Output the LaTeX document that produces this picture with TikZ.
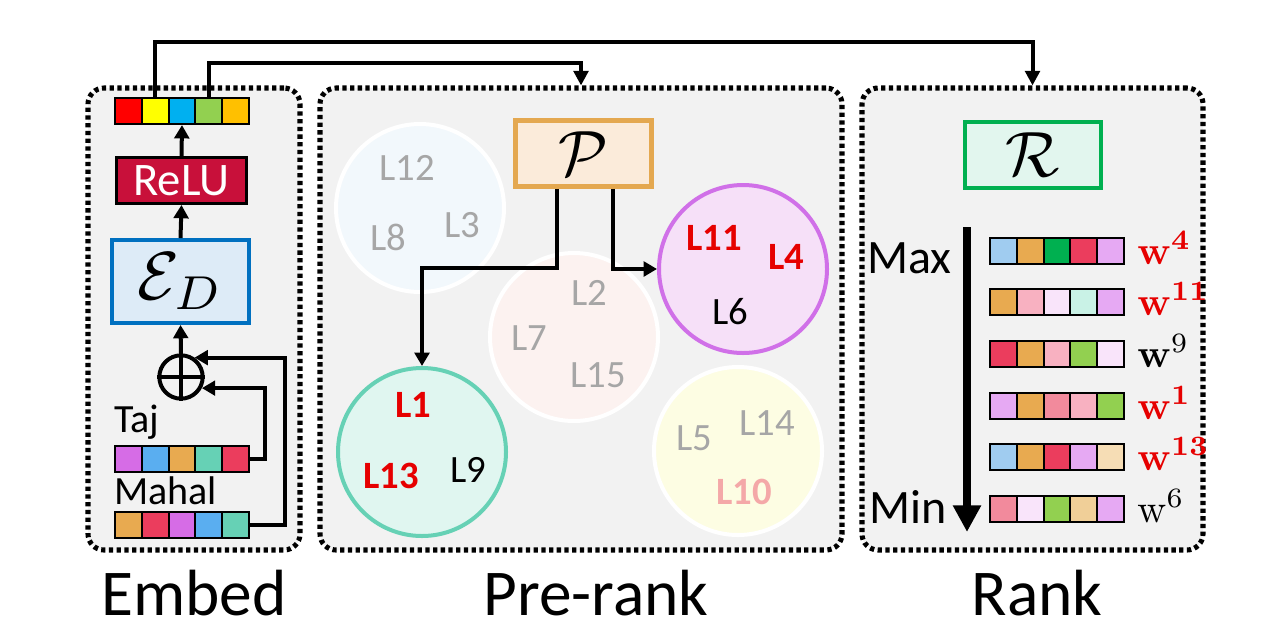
\documentclass[tikz,border=0pt]{standalone}
\usepackage{graphicx}
\usepackage[no-math]{fontspec}
\setmainfont{Carlito}
\usetikzlibrary{arrows.meta,calc}
\definecolor{panelgray}{HTML}{F2F2F2}
\definecolor{cred}{HTML}{FF0000}
\definecolor{cyellow}{HTML}{FFFF00}
\definecolor{ccyan}{HTML}{00B0F0}
\definecolor{cgreen}{HTML}{92D050}
\definecolor{cgold}{HTML}{FFC000}
\definecolor{relu}{HTML}{C8103A}
\definecolor{edfill}{HTML}{DDEBF7}
\definecolor{edborder}{HTML}{0070C0}
\definecolor{cviolet}{HTML}{D66CE6}
\definecolor{cblue}{HTML}{5AAEF0}
\definecolor{corange}{HTML}{E8AA50}
\definecolor{cteal}{HTML}{66D1B5}
\definecolor{cred2}{HTML}{EB3D5D}
\definecolor{clblue}{HTML}{A0CCF0}
\definecolor{cdgreen}{HTML}{00B050}
\definecolor{clviolet}{HTML}{E6A9F3}
\definecolor{cpink}{HTML}{F8B1C1}
\definecolor{cvlpink}{HTML}{F9E4FA}
\definecolor{clteal}{HTML}{C9F2E6}
\definecolor{climegreen}{HTML}{92D050}
\definecolor{cpinkred}{HTML}{F28A9C}
\definecolor{cbeige}{HTML}{F6DDB5}
\definecolor{cbeige2}{HTML}{F0CF98}
\definecolor{pfill}{HTML}{FBEBDA}
\definecolor{pborder}{HTML}{E4A850}
\definecolor{rfill}{HTML}{E2F6EE}
\definecolor{rborder}{HTML}{00B050}
\definecolor{circblue}{HTML}{F2F8FC}
\definecolor{circpink}{HTML}{FCF2F0}
\definecolor{circviolet}{HTML}{F6E0F8}
\definecolor{circvioletb}{HTML}{D070E8}
\definecolor{circteal}{HTML}{E0F6F0}
\definecolor{circtealb}{HTML}{66D1B5}
\definecolor{circyellow}{HTML}{FDFDE3}
\definecolor{lgray}{HTML}{A6A6A6}
\definecolor{lred}{HTML}{E60000}
\definecolor{lpink}{HTML}{F4A8A8}
\newcommand\cellrow[4]{%
  \foreach \c [count=\i] in {#4} {%
    \node[cell,fill=\c] (#1-\i) at ({#2+13.4+26.8*(\i-1)},#3) {};}}
\begin{document}
\begin{tikzpicture}[x=0.75pt,y=-0.75pt,
  panel/.style={draw,line width=3.8pt,dash pattern=on 3.2pt off 2.6pt,rounded corners=12pt,fill=panelgray,inner sep=0},
  cell/.style={draw,line width=1.6pt,minimum width=20.1pt,minimum height=19.5pt,inner sep=0},
  earrow/.style={line width=3pt,-{Triangle[width=11pt,length=10pt]}},
  barrow/.style={line width=3pt,-{Triangle[width=11pt,length=11pt]}},
  bigarrow/.style={line width=6pt,-{Triangle[width=20pt,length=20pt]}},
  circ/.style={circle,draw,line width=3pt,minimum size=126pt,inner sep=0},
  lab/.style={font=\fontsize{29}{30}\selectfont},
  blab/.style={font=\fontsize{29}{30}\selectfont\bfseries},
  wlab/.style={anchor=west,inner sep=0}
]
\useasboundingbox (0,0) rectangle (1280,640);
\fill[white] (0,0) rectangle (1280,640);

% panels
\node[panel,minimum width=159pt,minimum height=346.5pt] (embed) at (194,319) {};
\node[panel,minimum width=391.5pt,minimum height=346.5pt] (pre) at (581,319) {};
\node[panel,minimum width=255.75pt,minimum height=346.5pt] (rank) at (1032.5,319) {};

% panel titles
\node[anchor=base,inner sep=0,font=\fontsize{49}{50}\selectfont] (tembed) at (194,615) {Embed};
\node[anchor=base,inner sep=0,font=\fontsize{49}{50}\selectfont] (tpre) at (596,615) {Pre-rank};
\node[anchor=base,inner sep=0,font=\fontsize{49}{50}\selectfont] (trank) at (1037,615) {Rank};

% Embed column
\cellrow{top}{115}{111}{cred,cyellow,ccyan,cgreen,cgold}
\node[draw,line width=2.2pt,fill=relu,text=white,minimum width=97.5pt,minimum height=34.5pt,inner sep=0,font=\fontsize{35}{36}\selectfont] (relu) at (181.5,180.5) {ReLU};
\node[draw=edborder,line width=3.2pt,fill=edfill,minimum width=103pt,minimum height=62pt,inner sep=0] (ed) at (180.5,281.5) {\scalebox{5.1}{$\mathcal{E}_D$}};
\node[circle,draw,line width=3pt,minimum size=32.5pt,inner sep=0] (oplus) at (181,377) {};
\draw[line width=3pt] (oplus.north) -- (oplus.south) (oplus.west) -- (oplus.east);
\node[anchor=base west,inner sep=0,font=\fontsize{30}{31}\selectfont] (taj) at (114,432) {Taj};
\cellrow{tajv}{115}{459}{cviolet,cblue,corange,cteal,cred2}
\node[anchor=base west,inner sep=0,font=\fontsize{30}{31}\selectfont] (mahal) at (114,504) {Mahal};
\cellrow{mahv}{115}{525}{corange,cred2,cviolet,cblue,cteal}

\coordinate (tajx) at (265,0);
\coordinate (mahx) at (285,0);
\draw[earrow] (tajv-5.east) -- (tajv-5.east -| tajx) |- (oplus.-28);
\draw[earrow] (mahv-5.east) -- (mahv-5.east -| mahx) |- (oplus.55);
\draw[earrow] (oplus.north) -- (ed.south);
\draw[earrow] (ed.north) -- (relu.south);
\draw[earrow] (relu.north) -- (top-3.south);

% top buses
\coordinate (bus1) at (0,42);
\coordinate (bus2) at (0,63);
\draw[barrow] (top-2.north) -- (top-2.north |- bus1) -| (rank.north);
\draw[barrow] (top-4.north) -- (top-4.north |- bus2) -| (pre.north);

% Pre-rank
\node[circ,draw=white,fill=circblue] (cb) at (420,208) {};
\node[circ,draw=white,fill=circpink] (cp) at (574,337) {};
\node[circ,draw=circvioletb,fill=circviolet] (cv) at (743,269) {};
\node[circ,draw=circtealb,fill=circteal] (ct) at (422,452) {};
\node[circ,draw=white,fill=circyellow] (cy) at (738,451) {};

\node[lab,text=lgray] (l12) at (407,168) {L12};
\node[lab,text=lgray] (l8) at (388,237) {L8};
\node[lab,text=lgray] (l3) at (462,225) {L3};
\node[lab,text=lgray] (l2) at (589,293) {L2};
\node[lab,text=lgray] (l7) at (529,338) {L7};
\node[lab,text=lgray] (l15) at (598,375) {L15};
\node[blab,text=lred] (l11) at (714,238) {L11};
\node[blab,text=lred] (l4) at (786,257) {L4};
\node[lab] (l6) at (730,312) {L6};
\node[blab,text=lred] (l1) at (413,405) {L1};
\node[blab,text=lred] (l13) at (391,476) {L13};
\node[lab] (l9) at (468,470) {L9};
\node[lab,text=lgray] (l5) at (694,438) {L5};
\node[lab,text=lgray] (l14) at (767,423) {L14};
\node[blab,text=lpink] (l10) at (744,492) {L10};

\node[draw=pborder,line width=3.6pt,fill=pfill,minimum width=102pt,minimum height=49.5pt,inner sep=0] (pbox) at (583.5,153.5) {\scalebox{4.8}{$\mathcal{P}$}};
\coordinate (pl) at (557,0);
\coordinate (pr) at (613,0);
\coordinate (pbus) at (0,268);
\draw[earrow] (pbox.south -| pl) -- (pl |- pbus) -| (ct.north);
\draw[earrow] (pbox.south -| pr) |- (cv.west);

% Rank
\node[draw=rborder,line width=3.6pt,fill=rfill,minimum width=102pt,minimum height=49.5pt,inner sep=0] (rbox) at (1033,155) {\scalebox{4.8}{$\mathcal{R}$}};
\node[anchor=base west,inner sep=0,font=\fontsize{36}{37}\selectfont] (max) at (867,273) {Max};
\node[anchor=base west,inner sep=0,font=\fontsize{36}{37}\selectfont] (min) at (869,523) {Min};
\coordinate (atop) at (967,227);
\coordinate (abot) at (967,532);
\draw[bigarrow] (atop) -- (abot);

\cellrow{r1}{990}{251}{clblue,corange,cdgreen,cred2,clviolet}
\cellrow{r2}{990}{302}{corange,cpink,cvlpink,clteal,clviolet}
\cellrow{r3}{990}{354}{cred2,corange,cpink,climegreen,cvlpink}
\cellrow{r4}{990}{406}{clviolet,corange,cpinkred,cpink,climegreen}
\cellrow{r5}{990}{457}{clblue,corange,cred2,clviolet,cbeige}
\cellrow{r6}{990}{509}{cpinkred,cvlpink,climegreen,cbeige2,clviolet}

\node[wlab,text=lred] (w4) at (1137,248) {\scalebox{3}{$\mathbf{w^{4}}$}};
\node[wlab,text=lred] (w11) at (1137,299) {\scalebox{3}{$\mathbf{w^{11}}$}};
\node[wlab] (w9) at (1137,351) {\scalebox{3}{$\mathbf{w}^{9}$}};
\node[wlab,text=lred] (w1) at (1137,403) {\scalebox{3}{$\mathbf{w^{1}}$}};
\node[wlab,text=lred] (w13) at (1137,454) {\scalebox{3}{$\mathbf{w^{13}}$}};
\node[wlab] (w6) at (1137,506) {\scalebox{3}{$\mathrm{w}^{6}$}};
\end{tikzpicture}
\end{document}
